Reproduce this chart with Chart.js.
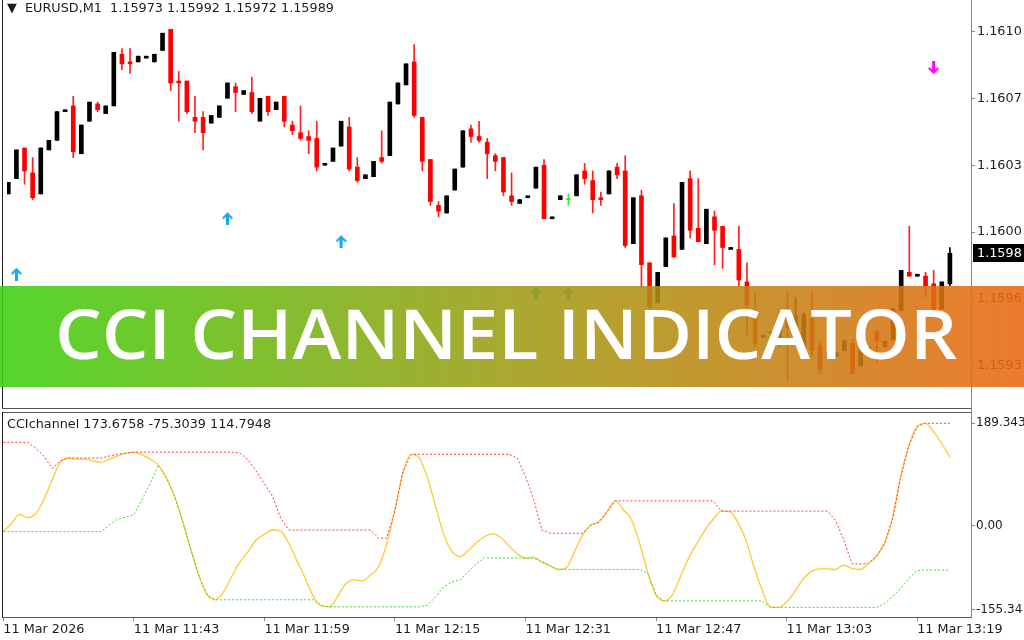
<!DOCTYPE html>
<html>
<head>
<meta charset="utf-8">
<script src="https://cdn.jsdelivr.net/npm/chart.js@4.4.1/dist/chart.umd.min.js"></script>
<style>
  html, body { margin: 0; padding: 0; background: #fff; width: 1024px; height: 640px; overflow: hidden; }
  body { position: relative; font-family: "DejaVu Sans", sans-serif; color: #1c1c1c; }
  canvas { position: absolute; left: 0; }
  #topChart { top: 0; }
  #cciChart { top: 410px; }
  .line { position: absolute; }
  #title { position: absolute; left: 7px; top: 0; font-size: 12.8px; line-height: 15px; white-space: pre; }
  #legend { position: absolute; left: 7px; top: 416px; font-size: 12.8px; line-height: 15px; white-space: pre; }
  #banner { position: absolute; left: 0; top: 286px; width: 1024px; height: 101px; opacity: 0.88;
    background: linear-gradient(90deg, rgb(61,208,15) 0%, rgb(158,156,20) 50%, rgb(233,104,18) 100%); }
  #bannerText { position: absolute; left: 55px; top: 298px; font-family: "Open Sans", sans-serif; font-weight: 600;
    font-size: 69px; line-height: 69px; color: #fff; white-space: pre; transform-origin: 0 0; }
</style>
</head>
<body>
<canvas id="topChart" width="1024" height="410"></canvas>
<canvas id="cciChart" width="1024" height="230"></canvas>

<!-- window frames -->
<div class="line" style="left:2px;top:0;width:1px;height:409px;background:#222"></div>
<div class="line" style="left:2px;top:408px;width:970px;height:1px;background:#555"></div>
<div class="line" style="left:2px;top:412px;width:970px;height:1px;background:#555"></div>
<div class="line" style="left:2px;top:412px;width:1px;height:206px;background:#222"></div>
<div class="line" style="left:2px;top:617px;width:970px;height:1px;background:#555"></div>
<div class="line" style="left:971px;top:0;width:1px;height:618px;background:#888"></div>

<div id="title">▼  EURUSD,M1  1.15973 1.15992 1.15972 1.15989</div>
<div id="legend">CCIchannel 173.6758 -75.3039 114.7948</div>

<div id="banner"></div>
<div id="bannerText">CCI CHANNEL INDICATOR</div>

<script>
'use strict';

// EURUSD M1 candles, 11 Mar 2026 11:27 .. 13:23
let opens = [
  1.16020, 1.16028, 1.16044, 1.16031, 1.16020, 1.16043, 1.16048, 1.16063, 1.16066, 1.16041,
  1.16058, 1.16067, 1.16062, 1.16066, 1.16093, 1.16089, 1.16089, 1.16091, 1.16089, 1.16095,
  1.16106, 1.16079, 1.16079, 1.16060, 1.16060, 1.16057, 1.16060, 1.16070, 1.16076, 1.16072,
  1.16073, 1.16058, 1.16071, 1.16064, 1.16071, 1.16056, 1.16052, 1.16050, 1.16049, 1.16035,
  1.16037, 1.16045, 1.16055, 1.16034, 1.16028, 1.16029, 1.16039, 1.16040, 1.16067, 1.16077,
  1.16089, 1.16060, 1.16038, 1.16014, 1.16010, 1.16022, 1.16034, 1.16054, 1.16050, 1.16047,
  1.16040, 1.16039, 1.16019, 1.16015, 1.16018, 1.16023, 1.16035, 1.16007, 1.16017, 1.16017,
  1.16019, 1.16032, 1.16027, 1.16018, 1.16020, 1.16034, 1.16032, 1.15994, 1.16019, 1.15984,
  1.15963, 1.15982, 1.15998, 1.15991, 1.16028, 1.16002, 1.15994, 1.16008, 1.16003, 1.15991,
  1.15991, 1.15974, 1.15955, 1.15945, 1.15947, 1.15943, 1.15960, 1.15950, 1.15937, 1.15955,
  1.15941, 1.15934, 1.15935, 1.15938, 1.15942, 1.15930, 1.15938, 1.15948, 1.15940, 1.15944,
  1.15959, 1.15979, 1.15977, 1.15977, 1.15973, 1.15960, 1.15973,
];
let highs = [
  1.16026, 1.16043, 1.16044, 1.16039, 1.16044, 1.16048, 1.16063, 1.16064, 1.16071, 1.16056,
  1.16068, 1.16068, 1.16066, 1.16094, 1.16096, 1.16096, 1.16092, 1.16092, 1.16093, 1.16104,
  1.16106, 1.16084, 1.16079, 1.16071, 1.16063, 1.16061, 1.16066, 1.16078, 1.16078, 1.16074,
  1.16081, 1.16070, 1.16071, 1.16068, 1.16071, 1.16058, 1.16066, 1.16053, 1.16058, 1.16036,
  1.16044, 1.16058, 1.16060, 1.16039, 1.16030, 1.16037, 1.16053, 1.16068, 1.16078, 1.16088,
  1.16098, 1.16060, 1.16038, 1.16016, 1.16019, 1.16033, 1.16053, 1.16056, 1.16058, 1.16049,
  1.16041, 1.16039, 1.16031, 1.16017, 1.16019, 1.16034, 1.16038, 1.16008, 1.16019, 1.16020,
  1.16030, 1.16036, 1.16032, 1.16021, 1.16032, 1.16036, 1.16040, 1.16018, 1.16022, 1.15984,
  1.15979, 1.15997, 1.16015, 1.16026, 1.16032, 1.16028, 1.16012, 1.16011, 1.16003, 1.15992,
  1.16003, 1.15984, 1.15968, 1.15946, 1.15948, 1.15953, 1.15969, 1.15966, 1.15958, 1.15969,
  1.15943, 1.15937, 1.15937, 1.15944, 1.15944, 1.15940, 1.15940, 1.15949, 1.15943, 1.15960,
  1.15980, 1.16003, 1.15978, 1.15979, 1.15980, 1.15974, 1.15992,
];
let lows = [
  1.16020, 1.16028, 1.16025, 1.16017, 1.16020, 1.16043, 1.16048, 1.16063, 1.16039, 1.16041,
  1.16058, 1.16063, 1.16062, 1.16066, 1.16085, 1.16083, 1.16089, 1.16091, 1.16089, 1.16095,
  1.16074, 1.16058, 1.16062, 1.16052, 1.16043, 1.16057, 1.16060, 1.16070, 1.16063, 1.16072,
  1.16062, 1.16058, 1.16061, 1.16064, 1.16055, 1.16051, 1.16048, 1.16041, 1.16032, 1.16035,
  1.16037, 1.16045, 1.16032, 1.16026, 1.16028, 1.16029, 1.16036, 1.16040, 1.16067, 1.16077,
  1.16060, 1.16032, 1.16014, 1.16008, 1.16010, 1.16022, 1.16034, 1.16047, 1.16047, 1.16028,
  1.16032, 1.16019, 1.16014, 1.16015, 1.16018, 1.16023, 1.16007, 1.16007, 1.16017, 1.16014,
  1.16019, 1.16025, 1.16010, 1.16014, 1.16020, 1.16028, 1.15992, 1.15994, 1.15971, 1.15960,
  1.15963, 1.15982, 1.15987, 1.15991, 1.15997, 1.15995, 1.15994, 1.15983, 1.15981, 1.15991,
  1.15972, 1.15946, 1.15940, 1.15945, 1.15947, 1.15940, 1.15922, 1.15943, 1.15936, 1.15935,
  1.15926, 1.15934, 1.15935, 1.15938, 1.15926, 1.15930, 1.15938, 1.15932, 1.15940, 1.15944,
  1.15959, 1.15977, 1.15977, 1.15966, 1.15956, 1.15960, 1.15972,
];
let closes = [
  1.16026, 1.16043, 1.16032, 1.16018, 1.16044, 1.16048, 1.16063, 1.16064, 1.16042, 1.16056,
  1.16068, 1.16064, 1.16066, 1.16094, 1.16088, 1.16088, 1.16092, 1.16092, 1.16093, 1.16104,
  1.16078, 1.16078, 1.16063, 1.16058, 1.16052, 1.16061, 1.16066, 1.16078, 1.16073, 1.16074,
  1.16063, 1.16070, 1.16063, 1.16068, 1.16058, 1.16053, 1.16049, 1.16048, 1.16034, 1.16036,
  1.16044, 1.16058, 1.16033, 1.16027, 1.16030, 1.16037, 1.16037, 1.16068, 1.16078, 1.16088,
  1.16061, 1.16037, 1.16016, 1.16011, 1.16019, 1.16033, 1.16053, 1.16050, 1.16048, 1.16041,
  1.16037, 1.16021, 1.16016, 1.16017, 1.16019, 1.16034, 1.16007, 1.16008, 1.16019, 1.16017,
  1.16030, 1.16028, 1.16017, 1.16017, 1.16032, 1.16030, 1.15993, 1.16018, 1.15983, 1.15961,
  1.15979, 1.15997, 1.15987, 1.16026, 1.16001, 1.15995, 1.16012, 1.16001, 1.15992, 1.15992,
  1.15975, 1.15962, 1.15942, 1.15946, 1.15948, 1.15950, 1.15950, 1.15956, 1.15957, 1.15938,
  1.15928, 1.15937, 1.15937, 1.15943, 1.15926, 1.15939, 1.15940, 1.15943, 1.15943, 1.15960,
  1.15980, 1.15977, 1.15978, 1.15972, 1.15956, 1.15974, 1.15989,
];

// signal arrows (bar index, price)
let upArrowBars = [1, 27, 41, 65, 69];
let upArrowPrices = [1.15978, 1.16007, 1.15995, 1.15968, 1.15968];
let downArrowBars = [114];
let downArrowPrices = [1.16086];

// CCI channel sub window
let cciValues = [
  -11, 4, 21, 15, 23, 49, 85, 118, 125, 123,
  123, 120, 117, 123, 129, 134, 136, 131, 123, 112,
  88, 54, 7, -45, -94, -128, -137, -122, -94, -67,
  -48, -26, -16, -8, -10, -33, -65, -97, -131, -148,
  -150, -130, -107, -100, -102, -91, -76, -33, 29, 100,
  132, 125, 88, 35, -17, -48, -57, -46, -31, -20,
  -15, -22, -38, -52, -60, -58, -67, -74, -81, -78,
  -48, -17, 1, 7, 26, 46, 29, 11, -33, -88,
  -128, -139, -128, -94, -60, -33, -8, 12, 27, 26,
  7, -26, -76, -119, -150, -151, -141, -122, -99, -85,
  -80, -80, -81, -73, -79, -81, -70, -57, -33, 14,
  91, 149, 183, 189, 174, 152, 127,
];
let upperBand = [
  154, 154, 154, 154, 143, 128, 106, 120, 125, 125,
  125, 125, 125, 129, 132, 134, 136, 136, 136, 136,
  136, 136, 136, 136, 136, 136, 136, 136, 136, 134,
  122, 101, 78, 54, 14, -8, -8, -8, -8, -8,
  -8, -8, -8, -8, -8, -8, -23, -23, 29, 100,
  132, 132, 132, 132, 132, 132, 132, 132, 132, 132,
  132, 132, 132, 125, 91, 49, -8, -14, -14, -14,
  -14, -14, 1, 7, 26, 46, 46, 46, 46, 46,
  46, 46, 46, 46, 46, 46, 46, 46, 27, 27,
  27, 27, 27, 27, 27, 27, 27, 27, 27, 27,
  27, 27, 10, -26, -70, -71, -70, -57, -33, 14,
  91, 149, 183, 189.3, 189.3, 189.3, 189.3,
];
let lowerBand = [
  -11, -11, -11, -11, -11, -11, -11, -11, -11, -11,
  -11, -11, -11, 1, 12, 16, 20, 48, 78, 112,
  88, 54, 7, -45, -94, -128, -137, -137, -137, -137,
  -137, -137, -137, -137, -137, -137, -137, -137, -137, -148,
  -150, -150, -150, -150, -150, -150, -150, -150, -150, -150,
  -150, -150, -147, -131, -113, -104, -100, -85, -70, -59,
  -60, -60, -60, -60, -60, -60, -67, -74, -81, -81,
  -81, -81, -81, -81, -81, -81, -81, -81, -81, -88,
  -128, -139, -139, -139, -139, -139, -139, -139, -139, -139,
  -139, -139, -139, -139, -151, -151, -151, -151, -151, -151,
  -151, -151, -151, -151, -151, -151, -151, -151, -144, -131,
  -116, -97, -83, -82, -82, -82, -82,
];

// axis ticks
let priceTicks = [1.15930, 1.15965, 1.16000, 1.16035, 1.16070, 1.16105];
let priceTickLabels = ['1.1593', '1.1596', '1.1600', '1.1603', '1.1607', '1.1610'];
let lastPriceLabel = '1.1598';
let cciTicks = [-155.34, 0, 189.343];
let cciTickLabels = ['-155.34', '0.00', '189.343'];
let timeTickBars = [0, 16, 32, 48, 64, 80, 96, 112];
let timeTickLabels = ['11 Mar 2026', '11 Mar 11:43', '11 Mar 11:59', '11 Mar 12:15',
  '11 Mar 12:31', '11 Mar 12:47', '11 Mar 13:03', '11 Mar 13:19'];

// visible window
let barMin = -0.16;
let barMax = 118.6;
let priceMin = 1.159107;
let priceMax = 1.161177;
let cciMin = -168.8;
let cciMax = 210.2;

const FONT = { family: 'DejaVu Sans', size: 12.8 };
const AXIS_FONT = { family: 'DejaVu Sans', size: 12 };
const TEXT_COLOR = '#1c1c1c';

function candleColor(i, bull, bear, doji) {
  if (closes[i] > opens[i]) return bull;
  if (closes[i] < opens[i]) return bear;
  return doji;
}

function makeArrow(color, pointsDown) {
  let c = document.createElement('canvas');
  c.width = 11;
  c.height = 13;
  let ctx = c.getContext('2d');
  if (pointsDown) {
    ctx.translate(0, 13);
    ctx.scale(1, -1);
  }
  ctx.fillStyle = color;
  ctx.beginPath();
  ctx.moveTo(5.5, 0);
  ctx.lineTo(11, 5.5);
  ctx.lineTo(9.5, 7);
  ctx.lineTo(7, 4.5);
  ctx.lineTo(7, 13);
  ctx.lineTo(4, 13);
  ctx.lineTo(4, 4.5);
  ctx.lineTo(1.5, 7);
  ctx.lineTo(0, 5.5);
  ctx.closePath();
  ctx.fill();
  return c;
}

function noPadding(scale) {
  scale.paddingTop = 0;
  scale.paddingBottom = 0;
  scale.paddingLeft = 0;
  scale.paddingRight = 0;
}

const lastPriceTag = {
  id: 'lastPriceTag',
  afterDraw(chart) {
    let ctx = chart.ctx;
    let y = Math.round(chart.scales.y.getPixelForValue(closes[closes.length - 1]));
    let x = chart.chartArea.right + 2;
    ctx.save();
    ctx.fillStyle = '#000';
    ctx.fillRect(x, y - 9, 1024 - x, 18);
    ctx.fillStyle = '#fff';
    ctx.font = '12.8px "DejaVu Sans"';
    ctx.textBaseline = 'middle';
    ctx.fillText(lastPriceLabel, x + 4, y + 1);
    ctx.restore();
  },
};

let bodyData = opens.map((o, i) => ({ x: i, y: [o, closes[i]] }));
let wickData = highs.map((h, i) => ({ x: i, y: [lows[i], h] }));
let upData = upArrowBars.map((b, i) => ({ x: b, y: upArrowPrices[i] }));
let downData = downArrowBars.map((b, i) => ({ x: b, y: downArrowPrices[i] }));

new Chart(document.getElementById('topChart'), {
  type: 'bar',
  data: {
    datasets: [
      {
        type: 'scatter',
        data: upData,
        pointStyle: makeArrow('#1aa6f2', false),
        pointRadius: 6,
      },
      {
        type: 'scatter',
        data: downData,
        pointStyle: makeArrow('#ff00ff', true),
        pointRadius: 6,
      },
      {
        data: bodyData,
        grouped: false,
        barThickness: 4,
        minBarLength: 1,
        backgroundColor: (ctx) => candleColor(ctx.dataIndex, '#000000', '#ff0000', '#33ee33'),
      },
      {
        data: wickData,
        grouped: false,
        barThickness: 1,
        minBarLength: 1,
        backgroundColor: (ctx) => candleColor(ctx.dataIndex, '#000000', '#ff2020', '#33ee33'),
      },
    ],
  },
  options: {
    responsive: false,
    animation: false,
    layout: { padding: { left: 2, top: 0, right: 0, bottom: 2 } },
    plugins: { legend: { display: false }, tooltip: { enabled: false } },
    scales: {
      x: { type: 'linear', min: barMin, max: barMax, offset: false, display: false },
      y: {
        position: 'right',
        min: priceMin,
        max: priceMax,
        afterBuildTicks: (s) => { s.ticks = priceTicks.map((v) => ({ value: v })); },
        afterFit: (s) => { s.width = 53; noPadding(s); },
        ticks: {
          callback: (v, i) => priceTickLabels[i],
          font: FONT,
          color: TEXT_COLOR,
          padding: 2,
        },
        grid: { drawOnChartArea: false, tickLength: 4, color: '#888' },
        border: { display: false },
      },
    },
  },
  plugins: [lastPriceTag],
});

let toPoints = (arr) => arr.map((v, i) => ({ x: i, y: v }));

new Chart(document.getElementById('cciChart'), {
  type: 'line',
  data: {
    datasets: [
      {
        data: toPoints(upperBand),
        borderColor: '#ff3b3b',
        borderWidth: 1,
        borderDash: [2, 2],
        pointRadius: 0,
      },
      {
        data: toPoints(lowerBand),
        borderColor: '#33dd33',
        borderWidth: 1,
        borderDash: [2, 2],
        pointRadius: 0,
      },
      {
        data: toPoints(cciValues),
        borderColor: '#ffc933',
        borderWidth: 1.3,
        pointRadius: 0,
        cubicInterpolationMode: 'monotone',
      },
    ],
  },
  options: {
    responsive: false,
    animation: false,
    layout: { padding: { left: 2, top: 2, right: 0, bottom: 0 } },
    plugins: { legend: { display: false }, tooltip: { enabled: false } },
    scales: {
      x: {
        type: 'linear',
        min: barMin,
        max: barMax,
        afterBuildTicks: (s) => { s.ticks = timeTickBars.map((v) => ({ value: v })); },
        afterFit: (s) => { s.height = 23; noPadding(s); },
        ticks: {
          callback: (v, i) => timeTickLabels[i],
          align: 'start',
          autoSkip: false,
          maxRotation: 0,
          font: FONT,
          color: TEXT_COLOR,
          padding: 1,
        },
        grid: { drawOnChartArea: false, tickLength: 4, color: '#888' },
        border: { display: false },
      },
      y: {
        position: 'right',
        min: cciMin,
        max: cciMax,
        afterBuildTicks: (s) => { s.ticks = cciTicks.map((v) => ({ value: v })); },
        afterFit: (s) => { s.width = 53; noPadding(s); },
        ticks: {
          callback: (v, i) => cciTickLabels[i],
          font: AXIS_FONT,
          color: TEXT_COLOR,
          padding: 1,
        },
        grid: { drawOnChartArea: false, tickLength: 4, color: '#888' },
        border: { display: false },
      },
    },
  },
});

// stretch banner caption to the reference width
let caption = document.getElementById('bannerText');
caption.style.transform = 'scaleX(' + (902 / caption.offsetWidth) + ')';
</script>
</body>
</html>
